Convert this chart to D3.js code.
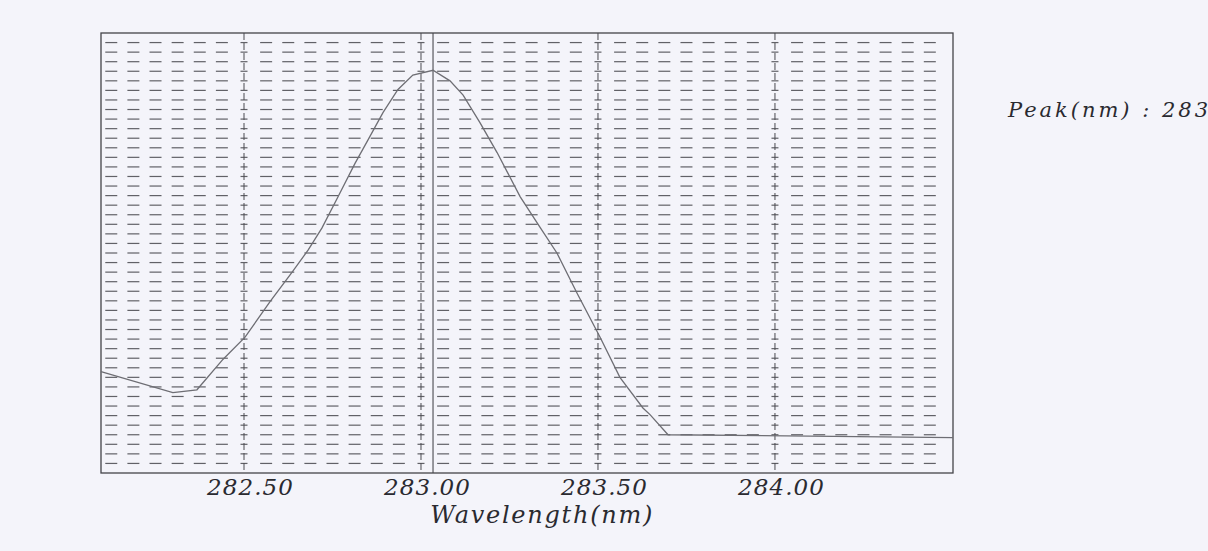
<!DOCTYPE html>
<html>
<head>
<meta charset="utf-8">
<script src="https://cdn.jsdelivr.net/npm/d3@7"></script>
<style>
  html, body { margin: 0; padding: 0; background: #f4f4fa; }
  svg { display: block; }
  .lbl { font-family: "DejaVu Serif", serif; font-style: italic; fill: #2a2a30; }
</style>
</head>
<body>
<div id="chart"></div>
<script>
/**********************************************************************/
// DATA:
/**********************************************************************/
// scanned spectrum (y in arbitrary units)
const wavelength = [282.096, 282.299, 282.367, 282.441, 282.503, 282.573, 282.636, 282.681,
                    282.720, 282.766, 282.814, 282.850, 282.893, 282.935, 282.977, 283.034,
                    283.082, 283.119, 283.167, 283.215, 283.280, 283.336, 283.384, 283.441,
                    283.506, 283.562, 283.627, 283.647, 283.698, 284.503];
const absorbance = [0.106, 0.084, 0.087, 0.119, 0.142, 0.179, 0.210, 0.233,
                    0.256, 0.289, 0.324, 0.348, 0.377, 0.401, 0.416, 0.421,
                    0.410, 0.395, 0.366, 0.335, 0.289, 0.257, 0.230, 0.188,
                    0.142, 0.100, 0.068, 0.061, 0.040, 0.037];
const xTicks = [282.5, 283.0, 283.5, 284.0];
const xTickLabels = ["282.50", "283.00", "283.50", "284.00"];
const peakWavelength = 283.034;
const peakLabel = "Peak(nm) : 283";
const xTitle = "Wavelength(nm)";

/**********************************************************************/
// CHART DEFINITIONS:
/**********************************************************************/
const svgWidth = 1208;
const svgHeight = 551;
const margin = { top: 33, left: 101 };
const chartWidth = 852;
const chartHeight = 440;

const svg = d3.select('#chart')
              .append('svg')
              .attr('width', svgWidth)
              .attr('height', svgHeight);

const chartGroup = svg.append('g')
                      .attr('transform', `translate(${margin.left}, ${margin.top})`);

const xScale = d3.scaleLinear().domain([282.096, 284.503]).range([0, chartWidth]);
const yScale = d3.scaleLinear().domain([0, 0.46]).range([chartHeight, 0]);

// grid: short horizontal dashes on every row, placed at minor x steps
const rows = d3.range(1, 46).map(i => i * 0.01);
const minorStep = 0.0625;
const cols = d3.range(-6, 33).map(k => 282.5 + k * minorStep)
               .filter(v => xScale(v) > 2 && xScale(v) < chartWidth - 2);
const isMajor = v => xTicks.some(t => Math.abs(t - v) < 1e-6);

const cells = [];
rows.forEach(r => cols.forEach(c => cells.push({ r, c })));

chartGroup.append('g')
          .selectAll('line')
          .data(cells)
          .join('line')
          .attr('x1', d => xScale(d.c) - (isMajor(d.c) ? 3.5 : 6))
          .attr('x2', d => xScale(d.c) + (isMajor(d.c) ? 3.5 : 6))
          .attr('y1', d => yScale(d.r))
          .attr('y2', d => yScale(d.r))
          .attr('stroke', '#3c3c42')
          .attr('stroke-opacity', 0.8)
          .attr('stroke-width', 1.2);

// dashed verticals at the labelled ticks
chartGroup.append('g')
          .selectAll('line')
          .data(xTicks)
          .join('line')
          .attr('x1', d => xScale(d))
          .attr('x2', d => xScale(d))
          .attr('y1', 0)
          .attr('y2', chartHeight)
          .attr('stroke', '#4a4a50')
          .attr('stroke-width', 1)
          .attr('stroke-dasharray', '7,3');

// peak marker
chartGroup.append('line')
          .attr('x1', xScale(peakWavelength))
          .attr('x2', xScale(peakWavelength))
          .attr('y1', 0)
          .attr('y2', chartHeight)
          .attr('stroke', '#4a4a50')
          .attr('stroke-width', 1.1);

// frame
chartGroup.append('rect')
          .attr('x', 0)
          .attr('y', 0)
          .attr('width', chartWidth)
          .attr('height', chartHeight)
          .attr('fill', 'none')
          .attr('stroke', '#444449')
          .attr('stroke-width', 1.3);

// spectrum
const line = d3.line()
               .x((d, i) => xScale(wavelength[i]))
               .y(d => yScale(d));

chartGroup.append('path')
          .datum(absorbance)
          .attr('d', line)
          .attr('fill', 'none')
          .attr('stroke', '#6e6e74')
          .attr('stroke-width', 1.3);

// tick labels
chartGroup.append('g')
          .selectAll('text')
          .data(xTicks)
          .join('text')
          .attr('class', 'lbl')
          .attr('x', d => xScale(d) + 6)
          .attr('y', chartHeight + 22)
          .attr('text-anchor', 'middle')
          .attr('font-size', 23)
          .attr('textLength', 86)
          .text((d, i) => xTickLabels[i]);

// axis title
chartGroup.append('text')
          .attr('class', 'lbl')
          .attr('x', xScale(283.34))
          .attr('y', chartHeight + 50)
          .attr('text-anchor', 'middle')
          .attr('font-size', 24)
          .attr('textLength', 222)
          .text(xTitle);

// peak readout
svg.append('text')
   .attr('class', 'lbl')
   .attr('x', 1008)
   .attr('y', 117)
   .attr('font-size', 21)
   .attr('textLength', 200)
   .text(peakLabel);
</script>
</body>
</html>
